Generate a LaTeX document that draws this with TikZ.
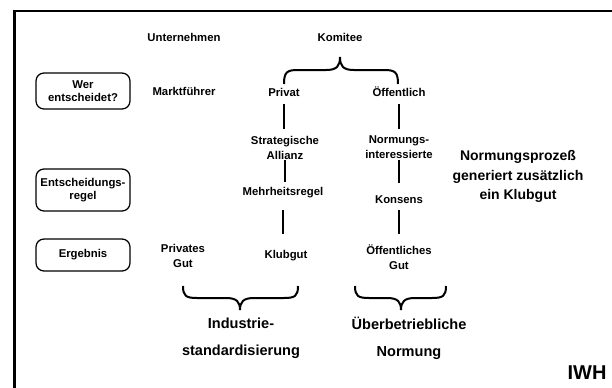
\documentclass[tikz,border=0pt]{standalone}
\usepackage{fontspec}
\setmainfont{Liberation Sans}
\begin{document}
\begin{tikzpicture}[x=0.75pt,y=0.75pt,yscale=-1,xscale=1,
  lbl/.style={inner sep=0.75pt,font=\fontsize{8.5}{11.25}\selectfont\bfseries,align=center},
  biglbl/.style={inner sep=0.75pt,font=\fontsize{10.9}{20.25}\selectfont\bfseries,align=center},
  rbox/.style={draw,line width=0.95,rounded corners=6pt,minimum width=70.5pt,inner sep=0.75pt,font=\fontsize{8.5}{9.6}\selectfont\bfseries,align=center},
  conn/.style={line width=1.5},
  brace/.style={line width=1.5}]
\useasboundingbox (0,0) rectangle (612,387);
\clip (0,0) rectangle (612,387);

%Shape: Frame
\draw [line width=1.9] (14.5,400) -- (14.5,11) -- (620,11) ;

%Shape: Rounded Rectangle
\draw (83,91) node (wer) [rbox,minimum height=27pt] {Wer\\entscheidet?};
%Shape: Rounded Rectangle
\draw (83,190) node (regel) [rbox,minimum height=31.5pt] {Entscheidungs-\\regel};
%Shape: Rounded Rectangle
\draw (83,255) node (ergebnis) [rbox,minimum height=24pt] {Ergebnis};

% Text Node
\draw (184,37) node (unternehmen) [lbl] {Unternehmen};
% Text Node
\draw (340,37) node (komitee) [lbl] {Komitee};
% Text Node
\draw (184,91) node (markt) [lbl] {Marktführer};
% Text Node
\draw (284,92) node (privat) [lbl] {Privat};
% Text Node
\draw (399,92) node (oeff) [lbl] {Öffentlich};
% Text Node
\draw (285,147.5) node (strat) [lbl] {Strategische\\Allianz};
% Text Node
\draw (399,147) node (norm) [lbl] {Normungs-\\interessierte};
% Text Node
\draw (283,193) node (mehr) [lbl] {Mehrheitsregel};
% Text Node
\draw (399,200) node (konsens) [lbl] {Konsens};
% Text Node
\draw (183,255.5) node (privgut) [lbl] {Privates\\Gut};
% Text Node
\draw (286,256) node (klubgut) [lbl] {Klubgut};
% Text Node
\draw (399,257) node (oeffgut) [lbl] {Öffentliches\\Gut};
% Text Node
\draw (518,176.5) node (prozess) [biglbl,font=\fontsize{10.5}{14.4}\selectfont\bfseries] {Normungsprozeß\\generiert zusätzlich\\ein Klubgut};
% Text Node
\draw (241,338.5) node (industrie) [biglbl] {Industrie-\\standardisierung};
% Text Node
\draw (409,338.5) node (ueber) [biglbl] {Überbetriebliche\\Normung};
% Text Node
\draw (587,373) node (iwh) [inner sep=0.75pt,font=\fontsize{15}{17}\selectfont\bfseries] {IWH};

%Straight Lines
\draw [conn,shorten <=5pt,shorten >=4.3pt] (privat.south) -- (privat.south |- strat.north) ;
\draw [conn,shorten <=0pt,shorten >=3.5pt] (strat.south) -- (strat.south |- mehr.north) ;
\draw [conn,shorten <=8pt,shorten >=11.7pt] (mehr.south) -- (mehr.south |- klubgut.north) ;
\draw [conn,shorten <=4.5pt,shorten >=3.8pt] (oeff.south) -- (oeff.south |- norm.north) ;
\draw [conn,shorten <=0pt,shorten >=9pt] (norm.south) -- (norm.south |- konsens.north) ;
\draw [conn,shorten <=3.8pt,shorten >=7.3pt] (konsens.south) -- (konsens.south |- oeffgut.north) ;

%Shape: Brace
\draw [brace] (284,84) .. controls (284,72) and (287,70) .. (298,70) -- (326,70) .. controls (337,70) and (340,66) .. (340,57) .. controls (340,66) and (343,70) .. (354,70) -- (384,70) .. controls (395,70) and (398,72) .. (398,84) ;
%Shape: Brace
\draw [brace] (183,286) .. controls (183,296) and (186,298) .. (197,298) -- (226,298) .. controls (237,298) and (240,302) .. (240,310) .. controls (240,302) and (243,298) .. (254,298) -- (284,298) .. controls (295,298) and (298,296) .. (298,286) ;
%Shape: Brace
\draw [brace] (355,286) .. controls (355,296) and (358,298) .. (369,298) -- (387,298) .. controls (398,298) and (401,302) .. (401,310) .. controls (401,302) and (404,298) .. (415,298) -- (432,298) .. controls (443,298) and (446,296) .. (446,286) ;

\end{tikzpicture}
\end{document}
